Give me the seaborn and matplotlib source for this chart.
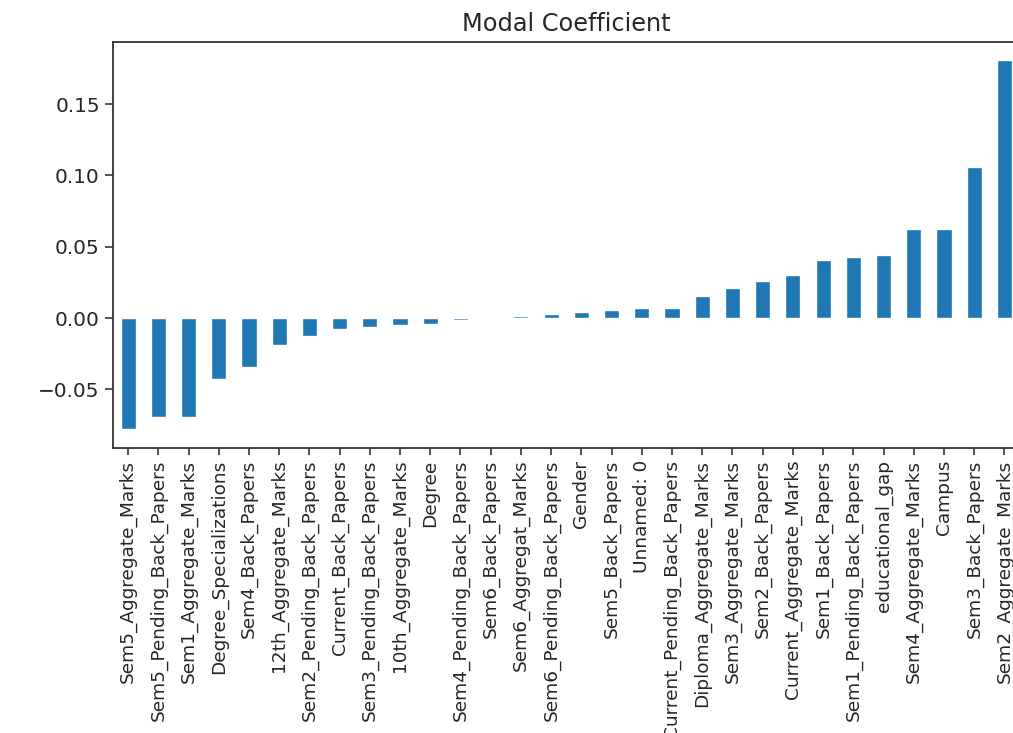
import matplotlib
matplotlib.use("Agg")
import matplotlib.pyplot as plt
import seaborn as sns
import numpy as np

# feature names, sorted by coefficient
features = [
    "Sem5_Aggregate_Marks", "Sem5_Pending_Back_Papers", "Sem1_Aggregate_Marks",
    "Degree_Specializations", "Sem4_Back_Papers", "12th_Aggregate_Marks",
    "Sem2_Pending_Back_Papers", "Current_Back_Papers", "Sem3_Pending_Back_Papers",
    "10th_Aggregate_Marks", "Degree", "Sem4_Pending_Back_Papers",
    "Sem6_Back_Papers", "Sem6_Aggregat_Marks", "Sem6_Pending_Back_Papers",
    "Gender", "Sem5_Back_Papers", "Unnamed: 0", "Current_Pending_Back_Papers",
    "Diploma_Aggregate_Marks", "Sem3_Aggregate_Marks", "Sem2_Back_Papers",
    "Current_Aggregate_Marks", "Sem1_Back_Papers", "Sem1_Pending_Back_Papers",
    "educational_gap", "Sem4_Aggregate_Marks", "Campus", "Sem3_Back_Papers",
    "Sem2_Aggregate_Marks",
]
coefficients = [
    -0.078, -0.069, -0.069, -0.043, -0.034, -0.019, -0.0127, -0.0076, -0.0062,
    -0.0048, -0.0038, -0.0013, 0.0, 0.0016, 0.0026, 0.0040, 0.0054, 0.0068,
    0.0068, 0.0157, 0.0210, 0.0262, 0.0300, 0.0407, 0.0430, 0.0444, 0.0626,
    0.0626, 0.1060, 0.1807,
]

sns.set_style("ticks")
plt.rcParams["font.family"] = ["DejaVu Sans"]

fig = plt.figure(figsize=(10.13, 7.33), dpi=100)
ax = fig.add_axes([0.1115, 0.389, 0.895, 0.554])

sns.barplot(
    x=features,
    y=coefficients,
    order=features,
    color="#1f77b4",
    saturation=1,
    width=0.5,
    ax=ax,
)

ax.set_xlim(-0.5, len(features) - 0.5)
ymin, ymax = min(coefficients), max(coefficients)
pad = (ymax - ymin) * 0.05
ax.set_ylim(ymin - pad, ymax + pad)
ax.set_yticks([-0.05, 0.0, 0.05, 0.10, 0.15])
ax.set_yticklabels(["\u22120.05", "0.00", "0.05", "0.10", "0.15"])

ax.tick_params(axis="x", rotation=90, labelsize=13.3, length=5, width=1.1)
ax.tick_params(axis="y", labelsize=14.4, length=6, width=1.1)
for s in ax.spines.values():
    s.set_linewidth(1.3)
    s.set_color("#333333")

ax.set_title("Modal Coefficient", fontsize=17.3, pad=8)
ax.set_xlabel("")
ax.set_ylabel("")

fig.savefig("out.png", dpi=100)
